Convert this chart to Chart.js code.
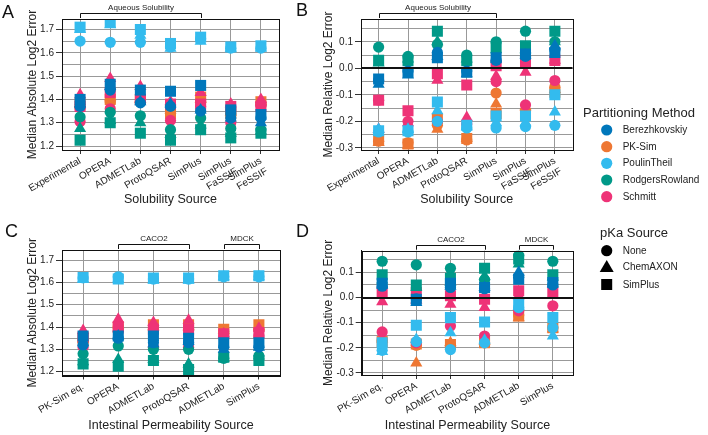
<!DOCTYPE html>
<html>
<head>
<meta charset="utf-8">
<script src="https://cdn.jsdelivr.net/npm/chart.js@4.4.1/dist/chart.umd.min.js"></script>
<style>
  body { margin: 0; background: #fff; width: 708px; height: 435px; position: relative; overflow: hidden;
         font-family: "Liberation Sans", Arial, sans-serif; color: #222; }
  canvas { position: absolute; }
  .txt { position: absolute; white-space: nowrap; }
  .letter { font-size: 18px; line-height: 18px; color: #111; }
  .ltitle { font-size: 13px; line-height: 14px; }
  .litem { font-size: 10px; line-height: 12px; }
</style>
</head>
<body>
<canvas id="panelA" width="300" height="210" style="left:0;top:0"></canvas>
<canvas id="panelB" width="290" height="210" style="left:300px;top:0"></canvas>
<canvas id="panelC" width="300" height="220" style="left:0;top:215px"></canvas>
<canvas id="panelD" width="290" height="220" style="left:300px;top:215px"></canvas>

<div class="txt letter" style="left:2px;top:3px">A</div>
<div class="txt letter" style="left:296px;top:1px">B</div>
<div class="txt letter" style="left:5px;top:222px">C</div>
<div class="txt letter" style="left:296px;top:222px">D</div>

<div id="legend"></div>

<script>
// categories
const solubilitySources = ['Experimental', 'OPERA', 'ADMETLab', 'ProtoQSAR', 'SimPlus', ['SimPlus', 'FaSSIF'], ['SimPlus', 'FeSSIF']];
const permeabilitySources = ['PK-Sim eq.', 'OPERA', 'ADMETLab', 'ProtoQSAR', 'ADMETLab', 'SimPlus'];
const solubilityBrackets = [{ label: 'Aqueous Solubility', from: 0, to: 4 }];
const permeabilityBrackets = [{ label: 'CACO2', from: 1, to: 3 }, { label: 'MDCK', from: 4, to: 5 }];

const methods = ['Berezhkovskiy', 'PK-Sim', 'PoulinTheil', 'RodgersRowland', 'Schmitt'];
const methodColors = ['#0077BB', '#EE7733', '#33BBEE', '#009988', '#EE3377'];
const pkaSources = ['None', 'ChemAXON', 'SimPlus'];
const pkaShapes = ['circle', 'triangle', 'rect'];

// tick labels
const absTicks = [1.2, 1.25, 1.3, 1.35, 1.4, 1.45, 1.5, 1.55, 1.6, 1.65, 1.7];
const relTicks = [-0.3, -0.25, -0.2, -0.15, -0.1, -0.05, 0, 0.05, 0.1, 0.15];

// rows follow `methods`, columns follow the source categories
// A: median absolute log2 error, solubility sources
const solAbsNone = [
  [1.37, 1.44, 1.385, 1.37, 1.35, 1.32, 1.32],
  [1.37, 1.39, 1.39, 1.35, 1.39, 1.34, 1.38],
  [1.65, 1.645, 1.645, 1.625, 1.66, 1.62, 1.62],
  [1.325, 1.345, 1.33, 1.27, 1.32, 1.275, 1.27],
  [1.305, 1.36, 1.39, 1.31, 1.37, 1.30, 1.375]
];
const solAbsChem = [
  [1.38, 1.455, 1.39, 1.38, 1.355, 1.32, 1.30],
  [1.38, 1.41, 1.40, 1.355, 1.40, 1.345, 1.39],
  [1.70, 1.72, 1.675, 1.62, 1.65, 1.62, 1.62],
  [1.275, 1.31, 1.30, 1.25, 1.29, 1.255, 1.265],
  [1.42, 1.49, 1.455, 1.39, 1.43, 1.38, 1.40]
];
const solAbsSim = [
  [1.40, 1.465, 1.44, 1.435, 1.46, 1.355, 1.335],
  [1.38, 1.40, 1.40, 1.34, 1.41, 1.34, 1.39],
  [1.71, 1.73, 1.70, 1.64, 1.667, 1.625, 1.63],
  [1.225, 1.30, 1.255, 1.225, 1.27, 1.235, 1.255],
  [1.37, 1.43, 1.40, 1.38, 1.38, 1.37, 1.37]
];

// B: median relative log2 error, solubility sources
const solRelNone = [
  [-0.045, -0.01, 0.06, -0.01, 0.03, 0.045, 0.07],
  [-0.275, -0.28, -0.215, -0.27, -0.093, -0.16, -0.07],
  [-0.24, -0.24, -0.2, -0.225, -0.225, -0.22, -0.215],
  [0.08, 0.045, 0.09, 0.05, 0.1, 0.14, 0.1],
  [-0.12, -0.2, -0.2, -0.21, -0.05, -0.138, -0.046]
];
const solRelChem = [
  [-0.06, -0.025, 0.045, -0.02, 0.035, 0.05, 0.085],
  [-0.28, -0.29, -0.23, -0.265, -0.135, -0.145, -0.08],
  [-0.23, -0.23, -0.16, -0.22, -0.205, -0.205, -0.165],
  [0.02, 0.035, 0.1, 0.035, 0.07, 0.07, 0.1],
  [-0.23, -0.205, -0.045, -0.185, -0.03, -0.015, 0.03]
];
const solRelSim = [
  [-0.04, -0.015, 0.04, -0.015, 0.04, 0.054, 0.06],
  [-0.27, -0.285, -0.19, -0.265, -0.17, -0.17, -0.09],
  [-0.235, -0.235, -0.127, -0.215, -0.18, -0.18, -0.1],
  [0.03, 0.03, 0.14, 0.03, 0.08, 0.085, 0.14],
  [-0.12, -0.16, -0.02, -0.063, 0.01, 0.022, 0.03]
];

// C: median absolute log2 error, intestinal permeability sources
const permAbsNone = [
  [1.32, 1.35, 1.33, 1.33, 1.31, 1.31],
  [1.34, 1.40, 1.39, 1.39, 1.38, 1.39],
  [1.62, 1.625, 1.615, 1.615, 1.625, 1.625],
  [1.28, 1.315, 1.30, 1.30, 1.26, 1.27],
  [1.31, 1.38, 1.31, 1.31, 1.36, 1.36]
];
const permAbsChem = [
  [1.33, 1.36, 1.325, 1.335, 1.30, 1.31],
  [1.345, 1.41, 1.40, 1.40, 1.385, 1.40],
  [1.615, 1.615, 1.61, 1.61, 1.625, 1.625],
  [1.245, 1.255, 1.255, 1.234, 1.26, 1.27],
  [1.384, 1.435, 1.42, 1.43, 1.37, 1.395]
];
const permAbsSim = [
  [1.36, 1.36, 1.36, 1.35, 1.33, 1.33],
  [1.345, 1.40, 1.41, 1.41, 1.39, 1.41],
  [1.622, 1.615, 1.62, 1.62, 1.63, 1.63],
  [1.235, 1.225, 1.25, 1.21, 1.265, 1.25],
  [1.355, 1.40, 1.39, 1.39, 1.37, 1.375]
];

// D: median relative log2 error, intestinal permeability sources
const permRelNone = [
  [0.045, -0.005, 0.04, 0.035, 0.08, 0.05],
  [-0.17, -0.19, -0.19, -0.18, -0.07, -0.12],
  [-0.21, -0.175, -0.207, -0.18, -0.04, -0.12],
  [0.144, 0.13, 0.116, 0.07, 0.167, 0.144],
  [-0.137, -0.18, -0.113, -0.153, -0.053, -0.033]
];
const permRelChem = [
  [0.05, -0.02, 0.045, 0.04, 0.10, 0.055],
  [-0.165, -0.26, -0.18, -0.175, -0.08, -0.125],
  [-0.215, -0.167, -0.14, -0.17, -0.035, -0.153],
  [0.07, 0.04, 0.06, 0.084, 0.133, 0.08],
  [-0.017, -0.01, -0.027, -0.04, 0.007, 0.01]
];
const permRelSim = [
  [0.057, -0.007, 0.057, 0.04, 0.073, 0.06],
  [-0.175, -0.185, -0.187, -0.18, -0.073, -0.12],
  [-0.18, -0.11, -0.08, -0.097, -0.027, -0.08],
  [0.09, 0.05, 0.076, 0.116, 0.153, 0.09],
  [0.02, 0.02, 0.007, -0.007, 0.027, 0.02]
];

Chart.defaults.font.family = '"Liberation Sans", Arial, sans-serif';
Chart.defaults.color = '#222';

const shapeRadius = { circle: 5.6, triangle: 7, rect: 7.8 };
// chart.js paints dataset 0 last, so the first method here ends up on top
const stackOrder = [0, 2, 3, 4, 1];
const gridGrey = '#999999';

const isMajor = v => Math.abs(v * 10 - Math.round(v * 10)) < 1e-6;

function buildDatasets(byPka) {
  const sets = [];
  stackOrder.forEach(m => {
    [2, 1, 0].forEach(p => {
      sets.push({
        label: methods[m] + ' / ' + pkaSources[p],
        data: byPka[p][m].map((v, i) => ({ x: i, y: v })),
        pointStyle: pkaShapes[p],
        pointRadius: shapeRadius[pkaShapes[p]],
        backgroundColor: methodColors[m],
        pointBackgroundColor: methodColors[m],
        borderWidth: 0,
        pointBorderWidth: 0,
        clip: 0
      });
    });
  });
  return sets;
}

// frame, zero line and the source brackets above the panel
const panelFrame = {
  id: 'panelFrame',
  afterDatasetsDraw(chart, args, opts) {
    const { ctx, chartArea: a, scales: { x, y } } = chart;
    ctx.save();
    if (opts.zero) {
      const y0 = Math.round(y.getPixelForValue(0));
      ctx.strokeStyle = '#111';
      ctx.lineWidth = 2;
      ctx.beginPath();
      ctx.moveTo(a.left, y0);
      ctx.lineTo(a.right, y0);
      ctx.stroke();
    }
    ctx.strokeStyle = '#111';
    ctx.lineWidth = 1;
    const l = Math.round(a.left) + 0.5, t = Math.round(a.top) + 0.5;
    ctx.strokeRect(l, t, Math.round(a.right) - Math.round(a.left), Math.round(a.bottom) - Math.round(a.top));
    ctx.font = '8px "Liberation Sans", Arial, sans-serif';
    ctx.fillStyle = '#222';
    ctx.textAlign = 'center';
    ctx.textBaseline = 'middle';
    (opts.brackets || []).forEach(b => {
      const x1 = Math.round(x.getPixelForValue(b.from)) + 0.5;
      const x2 = Math.round(x.getPixelForValue(b.to)) + 0.5;
      const yb = Math.round(a.top) - 5.5;
      ctx.beginPath();
      ctx.moveTo(x1, a.top - 1);
      ctx.lineTo(x1, yb);
      ctx.lineTo(x2, yb);
      ctx.lineTo(x2, a.top - 1);
      ctx.stroke();
      ctx.fillText(b.label, (x1 + x2) / 2, yb - 6);
    });
    ctx.restore();
  }
};

function drawPanel(id, cats, byPka, cfg) {
  return new Chart(document.getElementById(id), {
    type: 'scatter',
    data: { datasets: buildDatasets(byPka) },
    plugins: [panelFrame],
    options: {
      responsive: false,
      animation: false,
      events: [],
      layout: { padding: cfg.pad },
      plugins: {
        legend: { display: false },
        tooltip: { enabled: false },
        panelFrame: { zero: cfg.zero, brackets: cfg.brackets }
      },
      scales: {
        x: {
          type: 'linear',
          min: -0.6,
          max: cats.length - 0.4,
          afterBuildTicks: s => { s.ticks = cats.map((c, i) => ({ value: i })); },
          afterFit: s => { s.height = cfg.xHeight; },
          ticks: {
            autoSkip: false, minRotation: 30, maxRotation: 30, padding: 1,
            font: { size: 10 }, color: '#222',
            callback: v => cats[v]
          },
          grid: { color: gridGrey, tickColor: '#333', tickLength: 4 },
          border: { color: '#111' },
          title: { display: true, text: cfg.xTitle, font: { size: 12.5 }, color: '#222', padding: { top: 0, bottom: cfg.xTitlePad } }
        },
        y: {
          min: cfg.yMin,
          max: cfg.yMax,
          afterBuildTicks: s => { s.ticks = cfg.yTicks.map(v => ({ value: v })); },
          afterFit: s => { s.width = cfg.yWidth; },
          ticks: {
            autoSkip: false, padding: 2, font: { size: 10 }, color: '#222',
            callback: v => isMajor(v) ? v.toFixed(1) : ''
          },
          grid: {
            color: gridGrey,
            tickLength: 6,
            tickColor: c => (c.tick && isMajor(c.tick.value)) ? '#333' : 'rgba(0,0,0,0)'
          },
          border: { color: '#111' },
          title: { display: true, text: cfg.yTitle, font: { size: 12 }, color: '#222', padding: { top: cfg.yTitlePad, bottom: 0 } }
        }
      }
    }
  });
}

drawPanel('panelA', solubilitySources, [solAbsNone, solAbsChem, solAbsSim], {
  pad: { top: 19, right: 21, left: 0, bottom: 0 }, yWidth: 62, xHeight: 60, xTitlePad: 2.5, yTitlePad: 25,
  yMin: 1.183, yMax: 1.745, yTicks: absTicks,
  yTitle: 'Median Absolute Log2 Error', xTitle: 'Solubility Source',
  zero: false, brackets: solubilityBrackets
});
drawPanel('panelB', solubilitySources, [solRelNone, solRelChem, solRelSim], {
  pad: { top: 19, right: 17.5, left: 0, bottom: 0 }, yWidth: 61, xHeight: 60, xTitlePad: 2.5, yTitlePad: 21,
  yMin: -0.308, yMax: 0.186, yTicks: relTicks,
  yTitle: 'Median Relative Log2 Error', xTitle: 'Solubility Source',
  zero: true, brackets: solubilityBrackets
});
drawPanel('panelC', permeabilitySources, [permAbsNone, permAbsChem, permAbsSim], {
  pad: { top: 35, right: 20, left: 0, bottom: 0 }, yWidth: 62, xHeight: 59.5, xTitlePad: 1.5, yTitlePad: 25,
  yMin: 1.183, yMax: 1.745, yTicks: absTicks,
  yTitle: 'Median Absolute Log2 Error', xTitle: 'Intestinal Permeability Source',
  zero: false, brackets: permeabilityBrackets
});
drawPanel('panelD', permeabilitySources, [permRelNone, permRelChem, permRelSim], {
  pad: { top: 35.7, right: 16.7, left: 0, bottom: 0 }, yWidth: 61.7, xHeight: 60, xTitlePad: 1.5, yTitlePad: 21,
  yMin: -0.308, yMax: 0.186, yTicks: relTicks,
  yTitle: 'Median Relative Log2 Error', xTitle: 'Intestinal Permeability Source',
  zero: true, brackets: permeabilityBrackets
});

// legend
const legend = document.getElementById('legend');
const svgNS = 'http://www.w3.org/2000/svg';
const keyX = 606.7;
const methodKeyY = [130, 146.7, 163.3, 180, 196.7];
const pkaKeyY = [250.7, 267, 284.5];

function addText(text, left, cy, cls, h) {
  const d = document.createElement('div');
  d.className = 'txt ' + cls;
  d.style.left = left + 'px';
  d.style.top = (cy - h / 2) + 'px';
  d.textContent = text;
  legend.appendChild(d);
}
const svg = document.createElementNS(svgNS, 'svg');
svg.setAttribute('width', 708);
svg.setAttribute('height', 435);
svg.style.position = 'absolute';
svg.style.left = '0';
svg.style.top = '0';
legend.appendChild(svg);
function addShape(shape, cx, cy, fill) {
  let el;
  if (shape === 'circle') {
    el = document.createElementNS(svgNS, 'circle');
    el.setAttribute('cx', cx); el.setAttribute('cy', cy); el.setAttribute('r', 5.6);
  } else if (shape === 'triangle') {
    el = document.createElementNS(svgNS, 'polygon');
    el.setAttribute('points', `${cx},${cy - 7} ${cx + 7},${cy + 5} ${cx - 7},${cy + 5}`);
  } else {
    el = document.createElementNS(svgNS, 'rect');
    el.setAttribute('x', cx - 5.5); el.setAttribute('y', cy - 5.5);
    el.setAttribute('width', 11); el.setAttribute('height', 11);
  }
  el.setAttribute('fill', fill);
  svg.appendChild(el);
}

addText('Partitioning Method', 583, 113, 'ltitle', 14);
methods.forEach((m, i) => {
  addShape('circle', keyX, methodKeyY[i], methodColors[i]);
  addText(m, 622.7, methodKeyY[i], 'litem', 12);
});
addText('pKa Source', 600, 233, 'ltitle', 14);
pkaSources.forEach((p, i) => {
  addShape(pkaShapes[i], keyX, pkaKeyY[i], '#000');
  addText(p, 622.7, pkaKeyY[i], 'litem', 12);
});
</script>
</body>
</html>
